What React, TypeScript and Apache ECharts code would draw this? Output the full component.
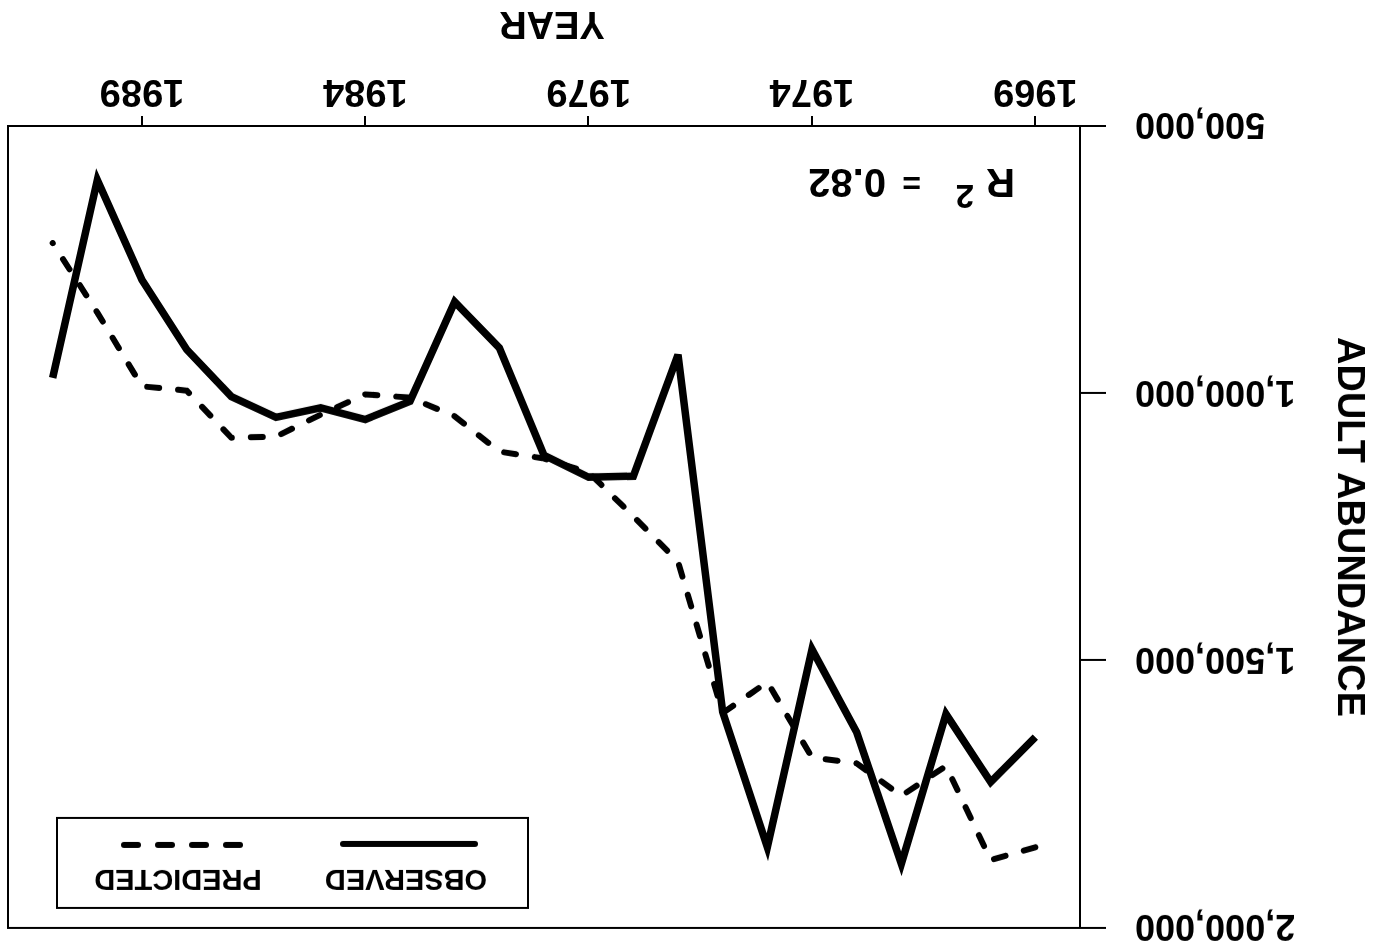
import React, { useEffect, useRef } from "react";
import * as echarts from "echarts";

const years = [1969, 1970, 1971, 1972, 1973, 1974, 1975, 1976, 1977, 1978, 1979, 1980, 1981, 1982, 1983, 1984, 1985, 1986, 1987, 1988, 1989, 1990, 1991];
const observed = [1643000, 1727000, 1600000, 1880000, 1634000, 1479000, 1849000, 1596000, 928000, 1155000, 1157000, 1116000, 915000, 829000, 1015000, 1049000, 1027000, 1045000, 1006000, 918000, 788000, 601000, 971000];
const predicted = [1849000, 1873000, 1697000, 1753000, 1692000, 1681000, 1540000, 1598000, 1315000, 1230000, 1148000, 1122000, 1109000, 1043000, 1008000, 1002000, 1040000, 1081000, 1083000, 995000, 987000, 849000, 719000];
const yearTicks = [1969, 1974, 1979, 1984, 1989];
const seriesNames = ["OBSERVED", "PREDICTED"];
const xTitle = "YEAR";
const yTitle = "ADULT ABUNDANCE";
const rSquared = "0.82";

const FONT = "'Liberation Sans', Arial, sans-serif";

export default function App() {
  const ref = useRef<HTMLDivElement>(null);
  useEffect(() => {
    if (!ref.current) return;
    const chart = echarts.init(ref.current, null, { renderer: "svg" });
    const txt = { fontFamily: FONT, fontWeight: "bold" as const, color: "#000" };
    chart.setOption({
      animation: false,
      backgroundColor: "#fff",
      grid: {
        left: 310,
        right: 8,
        top: 21,
        bottom: 126,
        show: true,
        borderColor: "#000",
        borderWidth: 2,
        backgroundColor: "transparent",
      },
      xAxis: {
        type: "value",
        min: 1968,
        max: 1992,
        name: xTitle,
        nameLocation: "middle",
        nameGap: 82,
        nameTextStyle: { ...txt, fontSize: 38, padding: [0, 16, 0, 0] },
        axisLine: { show: true, lineStyle: { color: "#000", width: 2 } },
        axisTick: { show: true, customValues: yearTicks, length: 10, lineStyle: { color: "#000", width: 2 } },
        axisLabel: { customValues: yearTicks, ...txt, fontSize: 38, margin: 14, formatter: (v: number) => String(v) },
        splitLine: { show: false },
      },
      yAxis: {
        type: "value",
        min: 500000,
        max: 2000000,
        interval: 500000,
        name: yTitle,
        nameLocation: "middle",
        nameRotate: 90,
        nameGap: 252,
        nameTextStyle: { ...txt, fontSize: 38 },
        axisLine: { show: true, lineStyle: { color: "#000", width: 2 } },
        axisTick: { show: true, length: 26, lineStyle: { color: "#000", width: 2 } },
        axisLabel: { ...txt, fontSize: 36, lineHeight: 32, margin: 55, formatter: (v: number) => v.toLocaleString("en-US") },
        splitLine: { show: false },
      },
      series: [
        {
          name: seriesNames[0],
          type: "line",
          data: years.map((y, i) => [y, observed[i]]),
          symbol: "none",
          lineStyle: { color: "#000", width: 7.5, join: "miter" },
        },
        {
          name: seriesNames[1],
          type: "line",
          data: years.map((y, i) => [y, predicted[i]]),
          symbol: "none",
          lineStyle: { color: "#000", width: 6, type: [12, 19], cap: "round", join: "round" },
        },
      ],
      graphic: [
        { type: "rect", shape: { x: 862, y: 41, width: 471, height: 90 }, style: { fill: "#fff", stroke: "#000", lineWidth: 2 }, z: 100 },
        { type: "text", x: 984, y: 69, style: { text: seriesNames[0], ...txt, fill: "#000", fontSize: 29, align: "center", verticalAlign: "middle" }, z: 101 },
        { type: "line", shape: { x1: 915, y1: 105, x2: 1047, y2: 105 }, style: { stroke: "#000", lineWidth: 6, lineCap: "round" }, z: 101 },
        { type: "text", x: 1212, y: 69, style: { text: seriesNames[1], ...txt, fill: "#000", fontSize: 29, align: "center", verticalAlign: "middle" }, z: 101 },
        { type: "line", shape: { x1: 1150, y1: 104, x2: 1266, y2: 104 }, style: { stroke: "#000", lineWidth: 6, lineCap: "round", lineDash: [14, 20] }, z: 101 },
        { type: "text", x: 375, y: 766, style: { text: "R", ...txt, fill: "#000", fontSize: 40, align: "left", verticalAlign: "middle" }, z: 101 },
        { type: "text", x: 416, y: 752, style: { text: "2", ...txt, fill: "#000", fontSize: 33, align: "left", verticalAlign: "middle" }, z: 101 },
        { type: "text", x: 469, y: 766, style: { text: "=", ...txt, fill: "#000", fontSize: 32, align: "left", verticalAlign: "middle" }, z: 101 },
        { type: "text", x: 504, y: 766, style: { text: rSquared, ...txt, fill: "#000", fontSize: 40, align: "left", verticalAlign: "middle" }, z: 101 },
      ],
    });
    return () => chart.dispose();
  }, []);
  return (
    <div
      style={{
        position: "fixed",
        left: 0,
        top: 0,
        width: 1390,
        height: 949,
        background: "#fff",
        transform: "rotate(180deg)",
      }}
    >
      <div ref={ref} style={{ width: 1390, height: 949 }} />
    </div>
  );
}
